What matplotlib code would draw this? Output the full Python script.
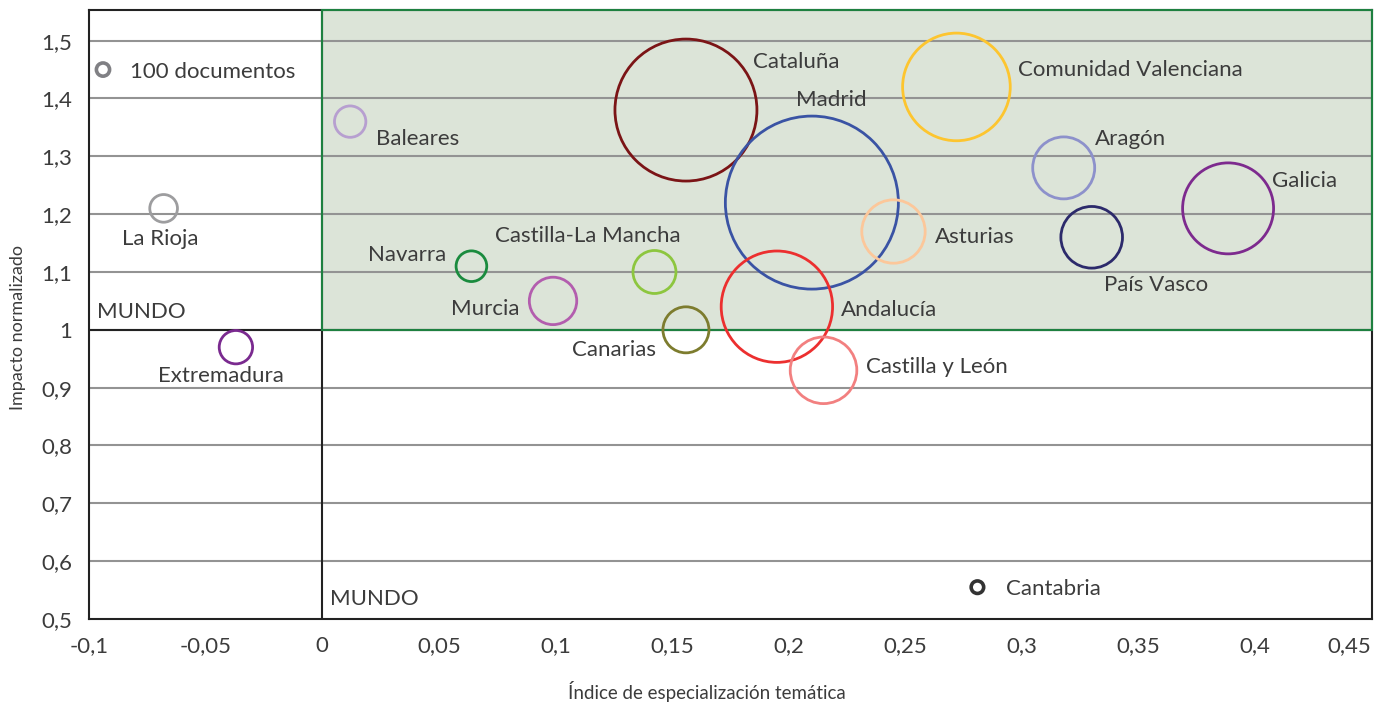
import matplotlib.pyplot as plt
from matplotlib.patches import Rectangle
import numpy as np

# Data: region, thematic specialization index, normalized impact, documents
regiones = ["Cataluña", "Madrid", "Comunidad Valenciana", "Asturias", "Andalucía",
            "Castilla-La Mancha", "Canarias", "Navarra", "Murcia", "Baleares",
            "La Rioja", "Extremadura", "Castilla y León", "Aragón", "País Vasco",
            "Galicia", "Cantabria"]
especializacion = [0.156, 0.210, 0.272, 0.245, 0.195,
                   0.1425, 0.156, 0.064, 0.099, 0.012,
                   -0.068, -0.037, 0.215, 0.318, 0.330,
                   0.3885, 0.281]
impacto = [1.38, 1.22, 1.42, 1.17, 1.04,
           1.10, 1.00, 1.11, 1.05, 1.36,
           1.21, 0.97, 0.93, 1.28, 1.16,
           1.21, 0.555]
documentos = [11570, 17180, 6650, 2305, 7120,
              1060, 1215, 540, 1290, 565,
              440, 640, 2545, 2205, 2180,
              4750, 90]
colores = ["#7b1416", "#3a53a4", "#fdc52f", "#fcc79a", "#ec2f2f",
           "#8dc63f", "#7d7c2e", "#1a8b3e", "#b35dae", "#b79fd0",
           "#9d9d9f", "#7a2a8f", "#f28080", "#8d91cb", "#2c2a6b",
           "#7d2a8e", "#333333"]

# legend bubble
leyenda_x, leyenda_y, leyenda_docs = -0.094, 1.45, 100

xticks = [-0.1, -0.05, 0, 0.05, 0.1, 0.15, 0.2, 0.25, 0.3, 0.35, 0.4, 0.45]
yticks = [0.5, 0.6, 0.7, 0.8, 0.9, 1.0, 1.1, 1.2, 1.3, 1.4, 1.5]

# label offsets (pixels) and alignment
offsets = {
    "Cataluña": (67, 48, "left"), "Madrid": (-16, 103, "left"),
    "Comunidad Valenciana": (62, 17, "left"), "Asturias": (41, -5, "left"),
    "Andalucía": (64, -3, "left"), "Castilla-La Mancha": (-67, 36, "center"),
    "Canarias": (-30, -20, "right"), "Navarra": (-25, 11, "right"),
    "Murcia": (-34, -8, "right"), "Baleares": (26, -17, "left"),
    "La Rioja": (-3, -31, "center"), "Extremadura": (-15, -29, "center"),
    "Castilla y León": (42, 3, "left"), "Aragón": (31, 29, "left"),
    "País Vasco": (12, -48, "left"), "Galicia": (44, 27, "left"),
    "Cantabria": (29, -2, "left"),
}

plt.rcParams['font.family'] = ['Lato', 'DejaVu Sans']
txt = "#3c3c3c"
fs = 16

fig = plt.figure(figsize=(13.83, 7.05), dpi=100)
ax = fig.add_axes([89 / 1383, 86 / 705, 1282.5 / 1383, 609 / 705])
ax.set_xlim(-0.1, 0.45)
ax.set_ylim(0.5, 1.553)

# shaded quadrant
ax.add_patch(Rectangle((0, 1), 0.45, 0.553, facecolor="#dce4d8", edgecolor="none", zorder=0))
for y in yticks[1:]:
    ax.axhline(y, color="#939393", lw=1.5, zorder=1)
ax.axhline(1, color="#222222", lw=1.5, zorder=2)
ax.axvline(0, color="#222222", lw=1.5, zorder=2)
ax.add_patch(Rectangle((0, 1), 0.45, 0.553, facecolor="none", edgecolor="#1e8040",
                       lw=1.5, zorder=3, clip_on=False))

R100 = 6.6  # radius in pixels of a 100-document bubble


def size_of(docs):
    r = R100 * np.sqrt(np.asarray(docs) / 100.0)
    return (2 * r * 0.72) ** 2


ax.scatter(especializacion, impacto, s=size_of(documentos), facecolors="none",
           edgecolors=colores, linewidths=[2.6 if d < 100 else 2.0 for d in documentos],
           zorder=4)
ax.scatter([leyenda_x], [leyenda_y], s=size_of([leyenda_docs]), facecolors="none",
           edgecolors="#808084", linewidths=2.6, zorder=4)
ax.annotate("100 documentos", (leyenda_x, leyenda_y), xytext=(27, -2),
            textcoords="offset pixels", ha="left", va="center", fontsize=fs, color=txt)

for name, x, y in zip(regiones, especializacion, impacto):
    dx, dy, ha = offsets[name]
    ax.annotate(name, (x, y), xytext=(dx, dy), textcoords="offset pixels",
                ha=ha, va="center", fontsize=fs, color=txt, zorder=5)

ax.text(-0.0965, 1.03, "MUNDO", fontsize=fs, color=txt, va="center")
ax.text(0.0035, 0.535, "MUNDO", fontsize=fs, color=txt, va="center")

ax.set_xticks(xticks)
ax.set_xticklabels([f"{v:g}".replace(".", ",") for v in xticks])
ax.set_yticks(yticks)
ax.set_yticklabels([f"{v:g}".replace(".", ",") for v in yticks])
ax.tick_params(length=0, labelsize=fs, labelcolor=txt, pad=12)
ax.get_xticklabels()[-1].set_horizontalalignment("right")
for sp in ax.spines.values():
    sp.set_linewidth(1.5)
    sp.set_color("#222222")

fig.text(707 / 1383, 1 - 692 / 705, "Índice de especialización temática", ha="center",
         va="center", fontsize=13.5, color=txt)
fig.text(18 / 1383, 1 - 327 / 705, "Impacto normalizado", ha="center", va="center",
         rotation=90, fontsize=13, color=txt)

fig.savefig("out.png", dpi=100)
